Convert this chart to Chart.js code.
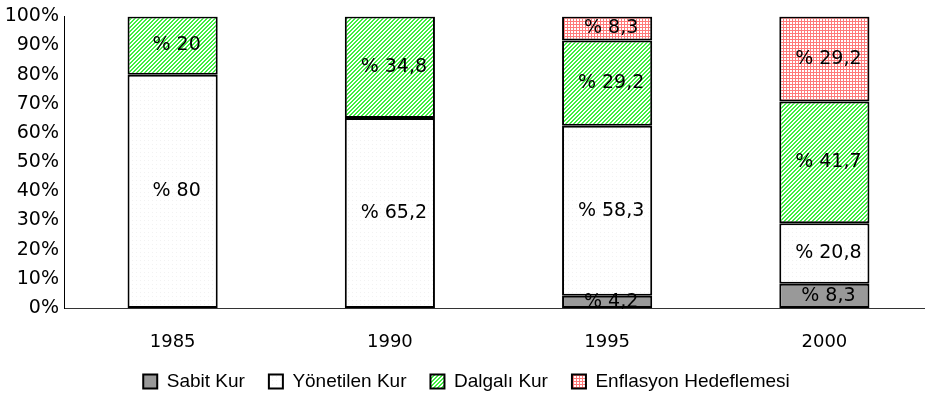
<!DOCTYPE html>
<html>
<head>
<meta charset="utf-8">
<script src="https://cdn.jsdelivr.net/npm/chart.js@4"></script>
<style>
  html, body { margin: 0; padding: 0; background: #fff; overflow: hidden; }
  #wrap { width: 933px; height: 401px; }
</style>
</head>
<body>
<div id="wrap"><canvas id="chart"></canvas></div>
<script>
// data (percent shares)
const years = ['1985', '1990', '1995', '2000'];
const sabitKur = [null, null, 4.2, 8.3];
const yonetilenKur = [80, 65.2, 58.3, 20.8];
const dalgaliKur = [20, 34.8, 29.2, 41.7];
const enflasyonHedef = [null, null, 8.3, 29.2];
const yTicks = [0, 10, 20, 30, 40, 50, 60, 70, 80, 90, 100];

function makePattern(size, draw) {
    const tile = document.createElement('canvas');
    tile.width = size;
    tile.height = size;
    const t = tile.getContext('2d');
    t.fillStyle = '#ffffff';
    t.fillRect(0, 0, size, size);
    draw(t);
    return t.createPattern(tile, 'repeat');
}

const greenHatch = makePattern(4, function (t) {
    t.fillStyle = '#3fef3f';
    for (let x = 0; x < 4; x++) {
        for (let y = 0; y < 4; y++) {
            if ((x + y) % 4 < 2) t.fillRect(x, y, 1, 1);
        }
    }
});

const redGrid = makePattern(3, function (t) {
    t.fillStyle = '#ff7a7a';
    t.fillRect(0, 0, 3, 1);
    t.fillRect(0, 0, 1, 3);
});

const whiteDots = makePattern(4, function (t) {
    t.fillStyle = '#f2f2f2';
    t.fillRect(0, 0, 1, 1);
});

const FONT = "'DejaVu Sans', sans-serif";

// "% 80" style labels in the middle of every segment
const segmentLabels = {
    id: 'segmentLabels',
    afterDatasetsDraw(chart) {
        const ctx = chart.ctx;
        ctx.save();
        ctx.font = '19px ' + FONT;
        ctx.fillStyle = '#000';
        ctx.textAlign = 'center';
        ctx.textBaseline = 'middle';
        chart.data.datasets.forEach(function (ds, i) {
            const meta = chart.getDatasetMeta(i);
            meta.data.forEach(function (bar, j) {
                const v = ds.data[j];
                if (v === null || v === undefined) return;
                const y = (bar.y + bar.base) / 2;
                ctx.fillText('% ' + String(v).replace('.', ','), bar.x + 4, y);
            });
        });
        ctx.restore();
    }
};

const common = {
    borderColor: '#000',
    borderWidth: 2,
    borderSkipped: false,
    barPercentage: 1,
    categoryPercentage: 0.415
};

new Chart(document.getElementById('chart'), {
    type: 'bar',
    data: {
        labels: years,
        datasets: [
            Object.assign({ label: 'Sabit Kur', data: sabitKur, backgroundColor: '#999999' }, common),
            Object.assign({ label: 'Yönetilen Kur', data: yonetilenKur, backgroundColor: whiteDots }, common),
            Object.assign({ label: 'Dalgalı Kur', data: dalgaliKur, backgroundColor: greenHatch }, common),
            Object.assign({ label: 'Enflasyon Hedeflemesi', data: enflasyonHedef, backgroundColor: redGrid }, common)
        ]
    },
    options: {
        responsive: true,
        maintainAspectRatio: false,
        animation: false,
        layout: { padding: { top: 12, right: 0, left: 0, bottom: 0 } },
        scales: {
            x: {
                stacked: true,
                grid: { display: false, drawTicks: false },
                border: { display: true, color: '#333', width: 1 },
                ticks: { color: '#000', padding: 24, font: { family: FONT, size: 18 } },
                afterFit: function (scale) { scale.height = 40; }
            },
            y: {
                stacked: true,
                min: 0,
                max: 100,
                grid: { display: false, drawTicks: false },
                border: { display: true, color: '#000', width: 1 },
                afterBuildTicks: function (scale) {
                    scale.ticks = yTicks.map(function (v) { return { value: v }; });
                },
                ticks: {
                    color: '#000',
                    padding: 5,
                    font: { family: FONT, size: 19 },
                    callback: function (v) { return v + '%'; }
                },
                afterFit: function (scale) { scale.width = 64; }
            }
        },
        plugins: {
            legend: {
                position: 'bottom',
                labels: {
                    color: '#000',
                    boxWidth: 14,
                    boxHeight: 14,
                    padding: 24,
                    font: { family: "'Liberation Sans', Arial, sans-serif", size: 19 }
                }
            },
            tooltip: { enabled: false }
        }
    },
    plugins: [segmentLabels]
});
</script>
</body>
</html>
